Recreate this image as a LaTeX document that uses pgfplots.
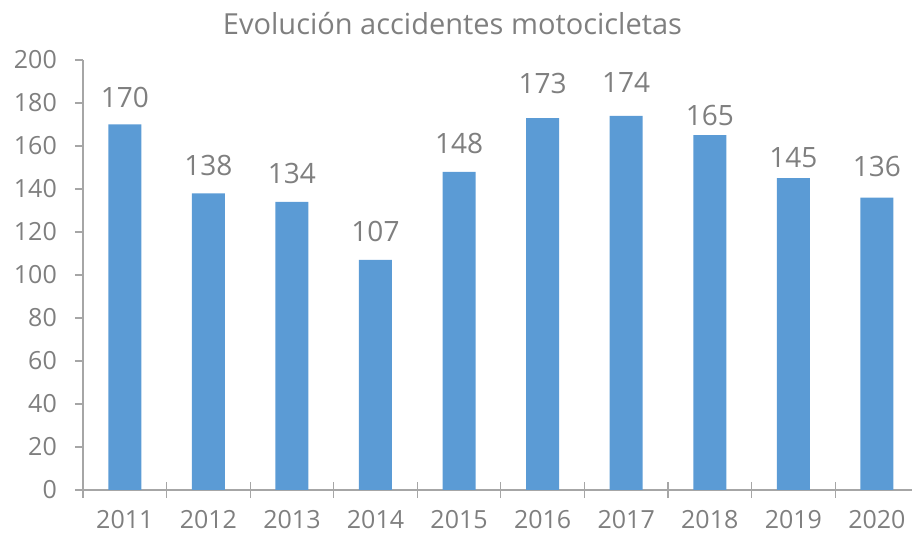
\documentclass[border=0pt]{standalone}
\usepackage{pgfplots}
\usepackage{pgfplotstable}
\pgfplotsset{compat=1.18}
\usepackage{fontspec}
\setmainfont{Open Sans}
\definecolor{txt}{HTML}{7F7F7F}
\definecolor{bar}{HTML}{5B9BD5}
\definecolor{axl}{HTML}{A6A6A6}
\pgfplotstableread{
x y dy
0 170 17
1 138 17.7
2 134 18
3 107 18
4 148 18
5 173 24
6 174 23.3
7 165 9
8 145 10.4
9 136 20.7
}\datatab
\begin{document}
\begin{tikzpicture}
\begin{axis}[
  name=ax,
  scale only axis,
  width=829bp, height=430bp,
  xmin=-0.5, xmax=9.42,
  ymin=0, ymax=200,
  axis x line=bottom, axis y line=left,
  axis line style={-, draw=axl, line width=1.2bp},
  tick style={draw=axl, line width=1.2bp},
  tick align=outside,
  major tick length=8bp,
  ytick={0,20,...,200},
  xtick={-0.5,0.5,...,8.5},
  xticklabels={2011,2012,2013,2014,2015,2016,2017,2018,2019,2020},
  extra x ticks={-0.5,0.5,...,8.5},
  extra x tick labels={},
  extra x tick style={tick align=inside},
  /pgf/number format/assume math mode=true,
  ticklabel style={font=\fontsize{25bp}{27bp}\selectfont, text=txt},
  yticklabel style={inner sep=0pt, xshift=-18bp},
  xticklabel style={inner sep=0pt, xshift=41.8bp, yshift=-12bp},
  title={Evolución accidentes motocicletas},
  title style={font=\fontsize{29bp}{32bp}\selectfont, text=txt, at={(0.5,1)}, anchor=center, xshift=-45bp, yshift=30bp},
  ybar, bar width=0.395,
]
\addplot[fill=bar, draw=none,
  visualization depends on={\thisrow{dy} \as \labdy},
  nodes near coords,
  every node near coord/.append style={font=\fontsize{28bp}{30bp}\selectfont, text=txt, inner sep=0pt, yshift=\labdy bp, /pgf/number format/assume math mode=true},
] table[x=x, y=y] {\datatab};
\end{axis}
\pgfresetboundingbox
\path[use as bounding box] ([xshift=-83bp,yshift=-43bp]ax.south west) rectangle ([yshift=60bp]ax.north east);
\end{tikzpicture}
\end{document}
